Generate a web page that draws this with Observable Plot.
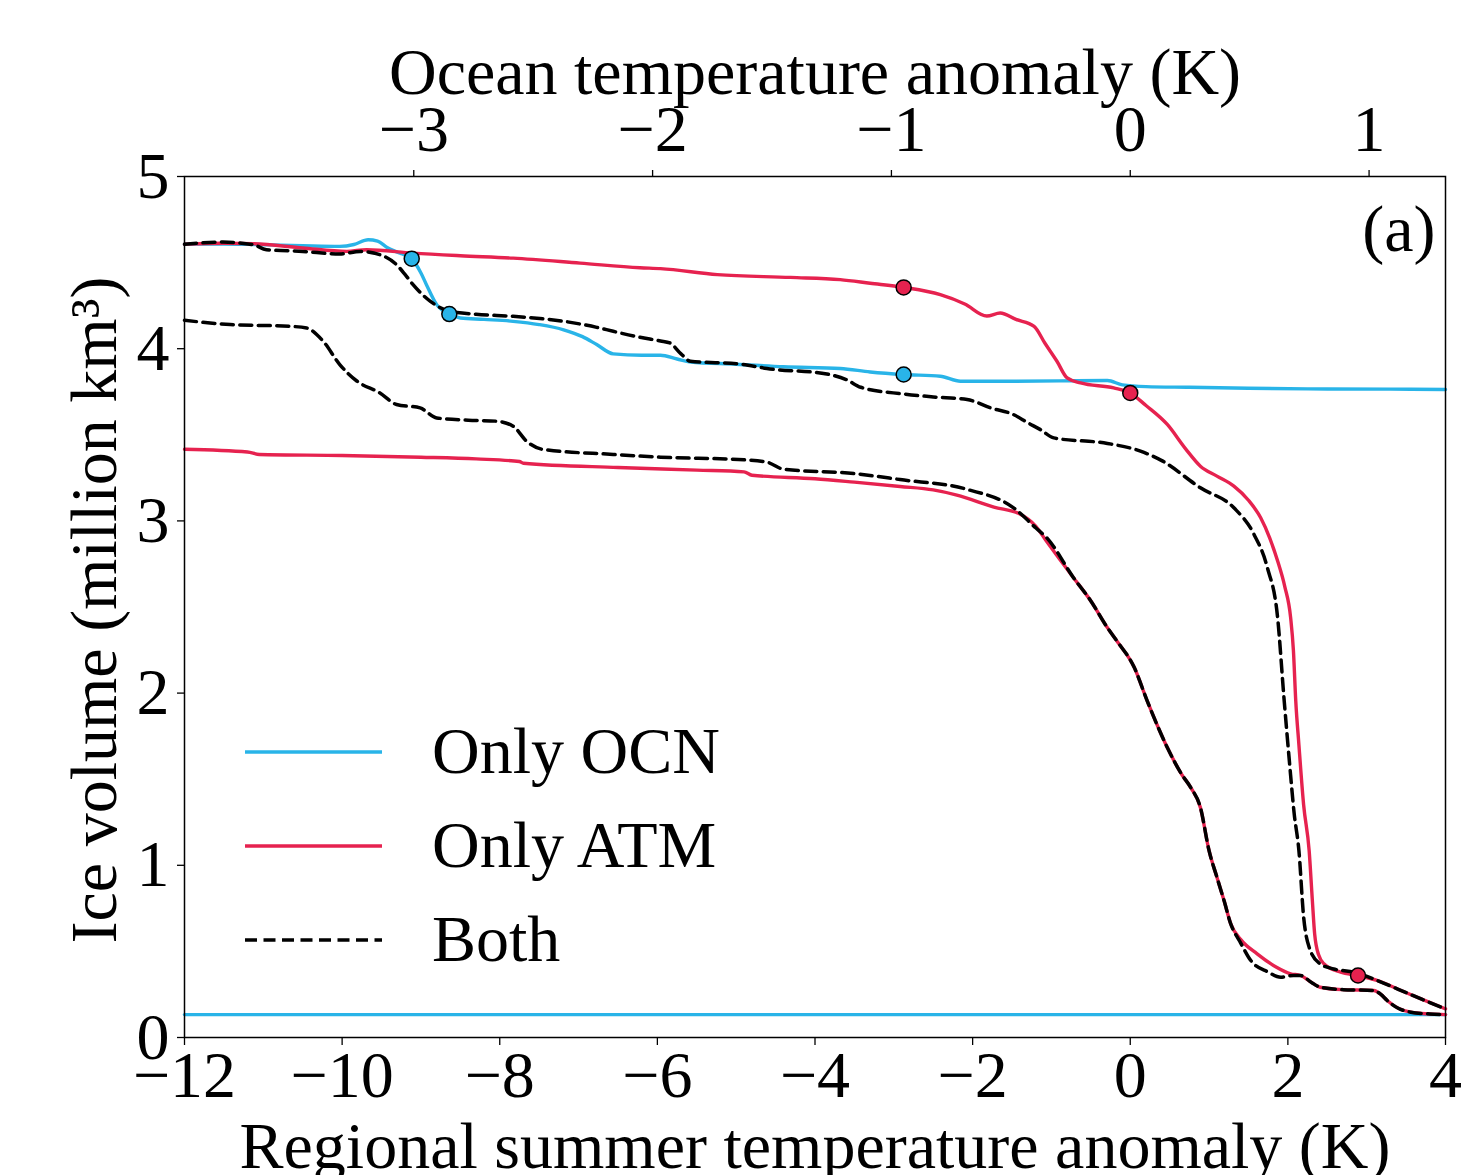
<!DOCTYPE html>
<html>
<head>
<meta charset="utf-8">
<script src="https://cdn.jsdelivr.net/npm/d3@7"></script>
<script src="https://cdn.jsdelivr.net/npm/@observablehq/plot@0.6"></script>
<style>
  html, body { margin: 0; padding: 0; background: #fff; }
  #chart svg { display: block; }
</style>
</head>
<body>
<div id="chart"></div>
<script>
// ---- data ----
const xTicks = [-12, -10, -8, -6, -4, -2, 0, 2, 4];
const yTicks = [0, 1, 2, 3, 4, 5];
const oceanTicks = [-3, -2, -1, 0, 1];
const oceanFactor = 0.33; // ocean anomaly = 0.33 x regional anomaly

const seriesNames = ["Only OCN", "Only ATM", "Both"];
const seriesColors = ["#29b4e8", "#e6224f", "#000000"];

const onlyOcnUpper = [
  [-12,4.607],[-11.5,4.608],[-11.1,4.605],[-10.5,4.598],[-10.03,4.594],[-9.85,4.605],[-9.67,4.633],
  [-9.55,4.625],[-9.43,4.588],[-9.3,4.56],[-9.12,4.523],[-9.0,4.44],[-8.93,4.372],[-8.80,4.256],
  [-8.64,4.201],[-8.5,4.178],[-8.2,4.17],[-7.83,4.159],[-7.5,4.14],[-7.19,4.11],[-6.95,4.07],
  [-6.77,4.024],[-6.56,3.97],[-6.2,3.962],[-5.96,3.962],[-5.75,3.94],[-5.58,3.923],[-5.0,3.91],
  [-4.4,3.895],[-3.68,3.885],[-3.3,3.865],[-2.875,3.85],[-2.41,3.84],[-2.155,3.811],[-1.6,3.811],
  [-0.9,3.813],[-0.29,3.815],[-0.1,3.79],[0.2,3.78],[0.75,3.776],[1.5,3.77],[2.5,3.766],[3.3,3.765],[4,3.763]
];
const onlyOcnLower = [[-12,0.133],[-6,0.133],[0,0.133],[4,0.133]];

const onlyAtmUpper = [
  [-12,4.607],[-11.5,4.612],[-11.13,4.61],[-10.5,4.585],[-9.94,4.565],[-9.69,4.575],[-9.1,4.555],
  [-8.5,4.54],[-7.83,4.526],[-6.98,4.497],[-6.22,4.47],[-5.96,4.465],[-5.24,4.43],[-4.31,4.414],
  [-3.68,4.401],[-3.3,4.38],[-2.875,4.356],[-2.41,4.314],[-2.1,4.26],[-1.82,4.19],[-1.65,4.207],
  [-1.45,4.17],[-1.22,4.13],[-1.08,4.03],[-0.93,3.927],[-0.8,3.83],[-0.63,3.801],[-0.21,3.772],
  [0.0,3.743],[0.2,3.67],[0.47,3.56],[0.7,3.42],[0.89,3.318],[1.1,3.26],[1.315,3.202],[1.5,3.12],
  [1.655,3.018],[1.77,2.9],[1.87,2.767],[1.96,2.62],[2.035,2.438],[2.07,2.25],[2.10,1.955],[2.14,1.7],
  [2.2,1.35],[2.27,1.085],[2.31,0.8],[2.34,0.60],[2.39,0.48],[2.46,0.427],[2.67,0.379],[2.89,0.36],
  [3.14,0.33],[3.4,0.28],[3.69,0.224],[4.0,0.166]
];
const onlyAtmLower = [
  [-12,3.416],[-11.2,3.40],[-11.05,3.386],[-10,3.38],[-9,3.37],[-8.3,3.36],[-7.75,3.345],[-7.7,3.335],
  [-6.5,3.31],[-5.5,3.295],[-4.9,3.285],[-4.8,3.265],[-4,3.245],[-3.5,3.225],[-2.92,3.20],[-2.5,3.18],
  [-2.2,3.15],[-1.73,3.08],[-1.4,3.04],[-1.2,2.97],[-1.06,2.88],[-0.9,2.78],[-0.72,2.67],[-0.5,2.535],
  [-0.29,2.38],[-0.165,2.30],[0.05,2.15],[0.215,1.955],[0.47,1.684],[0.65,1.53],[0.77,1.45],[0.89,1.336],
  [1.0,1.085],[1.1,0.93],[1.19,0.795],[1.275,0.66],[1.4,0.57],[1.61,0.486],[1.85,0.41],[2.035,0.37],
  [2.16,0.36],[2.3,0.32],[2.41,0.292],[2.7,0.278],[3.09,0.273],[3.18,0.25],[3.26,0.215],[3.4,0.17],
  [3.56,0.147],[3.8,0.137],[4,0.133]
];

const bothUpper = [
  [-12,4.607],[-11.51,4.619],[-11.13,4.604],[-10.96,4.575],[-10.5,4.565],[-10.03,4.55],[-9.77,4.565],
  [-9.52,4.546],[-9.31,4.488],[-9.2,4.43],[-9.10,4.372],[-8.88,4.275],[-8.63,4.217],[-8.3,4.2],
  [-7.83,4.188],[-7.2,4.16],[-6.77,4.124],[-6.56,4.101],[-6.22,4.066],[-5.96,4.045],[-5.84,4.033],
  [-5.7,3.97],[-5.58,3.927],[-4.95,3.911],[-4.61,3.885],[-3.85,3.853],[-3.6,3.82],[-3.42,3.776],
  [-2.875,3.737],[-2.5,3.72],[-2.07,3.705],[-1.77,3.656],[-1.48,3.617],[-1.3,3.57],[-1.14,3.53],
  [-0.97,3.482],[-0.29,3.45],[0.13,3.405],[0.4,3.35],[0.89,3.192],[1.315,3.076],[1.57,2.922],
  [1.74,2.728],[1.87,2.438],[1.95,1.974],[2.02,1.6],[2.08,1.3],[2.14,1.085],[2.2,0.70],[2.27,0.524],
  [2.41,0.427],[2.58,0.398],[2.84,0.379],[3.14,0.33],[3.4,0.28],[3.69,0.224],[4,0.166]
];
const bothLower = [
  [-12,4.165],[-11.42,4.14],[-10.66,4.13],[-10.45,4.12],[-10.24,4.043],[-10.03,3.908],[-9.81,3.811],
  [-9.52,3.743],[-9.31,3.676],[-9.01,3.656],[-8.80,3.598],[-8.4,3.585],[-8.04,3.579],[-7.83,3.55],
  [-7.66,3.463],[-7.45,3.415],[-6.56,3.386],[-5.96,3.37],[-4.9,3.355],[-4.6,3.34],[-4.4,3.3],
  [-3.5,3.275],[-2.92,3.24],[-2.07,3.183],[-1.48,3.076],[-1.2,2.96],[-1.055,2.90],[-0.72,2.67],
  [-0.5,2.535],[-0.29,2.38],[-0.165,2.30],[0.05,2.15],[0.215,1.955],[0.47,1.684],[0.65,1.53],
  [0.77,1.45],[0.89,1.336],[1.0,1.085],[1.1,0.93],[1.19,0.795],[1.275,0.66],[1.4,0.55],[1.53,0.447],
  [1.75,0.38],[1.91,0.35],[2.07,0.36],[2.16,0.36],[2.3,0.32],[2.41,0.292],[2.7,0.278],[3.09,0.273],
  [3.18,0.25],[3.26,0.215],[3.4,0.17],[3.56,0.147],[3.8,0.137],[4,0.133]
];

const dotsOcn = [[-9.117,4.523],[-8.64,4.201],[-2.875,3.85]];
const dotsAtm = [[-2.875,4.356],[0.0,3.743],[2.89,0.36]];

const xTitle = "Regional summer temperature anomaly (K)";
const topTitle = "Ocean temperature anomaly (K)";
const yTitle = "Ice volume (million km³)";
const panelLabel = "(a)";

// ---- drawing ----
const FONT = "'Liberation Serif', 'DejaVu Serif', serif";
const FS = 66;
const fmt = d => (d < 0 ? "\u2212" + Math.abs(d) : String(d));
const X = d => d[0], Y = d => d[1];
const DASH = "12,6.5";
const LW = 3.4;

const W = 1468, H = 1175;
const mL = 184, mR = 23, mT = 176, mB = 138;

const chart = Plot.plot({
  width: W, height: H,
  marginLeft: mL, marginRight: mR, marginTop: mT, marginBottom: mB,
  style: {fontFamily: FONT, fontSize: FS + "px", background: "#fff", color: "#000"},
  x: {domain: [-12, 4]},
  y: {domain: [0, 5]},
  marks: [
    Plot.line(onlyOcnLower, {x: X, y: Y, stroke: seriesColors[0], strokeWidth: LW}),
    Plot.line(onlyOcnUpper, {x: X, y: Y, stroke: seriesColors[0], strokeWidth: LW, curve: "monotone-x"}),
    Plot.line(onlyAtmLower, {x: X, y: Y, stroke: seriesColors[1], strokeWidth: LW, curve: "monotone-x"}),
    Plot.line(onlyAtmUpper, {x: X, y: Y, stroke: seriesColors[1], strokeWidth: LW, curve: "monotone-x"}),
    Plot.line(bothLower, {x: X, y: Y, stroke: seriesColors[2], strokeWidth: 3.5, strokeDasharray: DASH, curve: "monotone-x"}),
    Plot.line(bothUpper, {x: X, y: Y, stroke: seriesColors[2], strokeWidth: 3.5, strokeDasharray: DASH, curve: "monotone-x"}),
    Plot.dot(dotsOcn, {x: X, y: Y, r: 7.5, fill: seriesColors[0], stroke: "#000", strokeWidth: 1.5}),
    Plot.dot(dotsAtm, {x: X, y: Y, r: 7.5, fill: seriesColors[1], stroke: "#000", strokeWidth: 1.5}),
    Plot.frame({stroke: "#000", strokeWidth: 1.5}),
    Plot.axisX(xTicks, {anchor: "bottom", tickSize: 8, tickPadding: 5, tickFormat: fmt, label: null, strokeWidth: 1.3}),
    Plot.axisX(oceanTicks.map(d => d / oceanFactor), {anchor: "top", tickSize: 7, tickPadding: 19,
      tickFormat: d => fmt(Math.round(d * oceanFactor)), label: null, strokeWidth: 1.3}),
    Plot.axisY(yTicks, {anchor: "left", tickSize: 7, tickPadding: 8, tickFormat: fmt, label: null, strokeWidth: 1.3}),
    Plot.text([topTitle], {text: d => d, frameAnchor: "top", textAnchor: "middle", lineAnchor: "middle", dy: -104}),
    Plot.text([xTitle], {text: d => d, frameAnchor: "bottom", textAnchor: "middle", lineAnchor: "middle", dy: 109}),
    Plot.text([yTitle], {text: d => d, frameAnchor: "left", textAnchor: "middle", lineAnchor: "middle", rotate: -90, dx: -90, dy: 3}),
    Plot.text([panelLabel], {text: d => d, frameAnchor: "top-right", textAnchor: "end", lineAnchor: "middle", dx: -10, dy: 53})
  ]
});

// legend (inside the frame, lower left)
const lg = d3.select(chart).append("g").attr("class", "legend");
const legendDash = [null, null, DASH];
seriesNames.forEach((name, i) => {
  const cy = 752 + i * 94;
  lg.append("line")
    .attr("x1", 245).attr("x2", 382).attr("y1", cy).attr("y2", cy)
    .attr("stroke", seriesColors[i]).attr("stroke-width", LW)
    .attr("stroke-dasharray", legendDash[i]);
  lg.append("text")
    .attr("x", 432).attr("y", cy).attr("dy", "0.32em")
    .attr("text-anchor", "start")
    .attr("font-family", FONT).attr("font-size", FS).attr("fill", "#000")
    .text(name);
});

document.getElementById("chart").appendChild(chart);
</script>
</body>
</html>
